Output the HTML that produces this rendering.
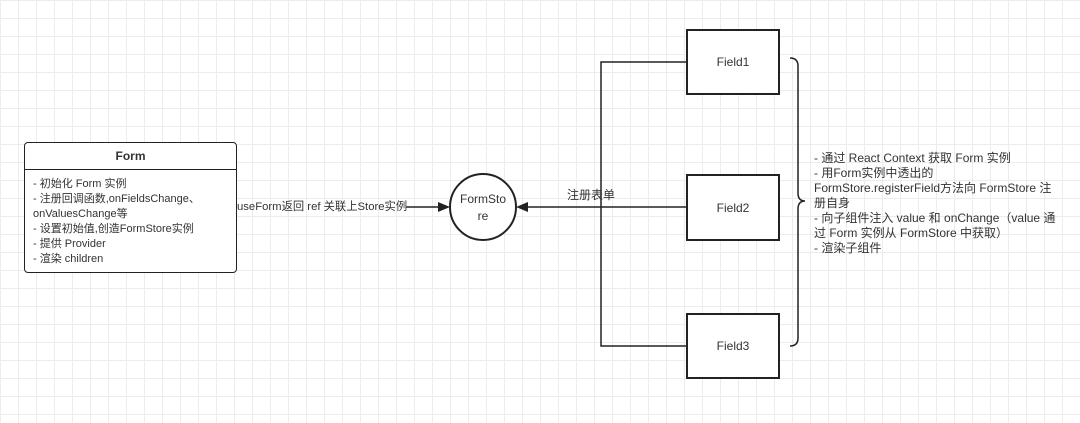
<!DOCTYPE html>
<html><head><meta charset="utf-8"><style>
body{margin:0;width:1080px;height:423px;overflow:hidden;background:#fff;
background-image:linear-gradient(#ececec 1px,transparent 1px),linear-gradient(90deg,#ececec 1px,transparent 1px);background-size:18px 18px;
font-family:"Liberation Sans","Noto Sans CJK SC",sans-serif;color:#333;position:relative}
.a{position:absolute}
.box{position:absolute;border:2px solid #222;background:#fff;display:flex;align-items:center;justify-content:center;font-size:12px;box-sizing:border-box}
.t{position:absolute;font-size:12px;line-height:15px;white-space:nowrap}
</style></head><body>
<div class="a" style="left:24px;top:142px;width:213px;height:131px;border:1.5px solid #222;border-radius:4px;background:#fff;box-sizing:border-box">
<div style="height:26px;border-bottom:1.5px solid #222;text-align:center;font-weight:bold;font-size:12px;line-height:26px">Form</div>
<div style="padding:7px 0 0 8px;font-size:11px;line-height:15px">- 初始化 Form 实例<br>- 注册回调函数,onFieldsChange、<br>onValuesChange等<br>- 设置初始值,创造FormStore实例<br>- 提供 Provider<br>- 渲染 children</div>
</div>
<svg class="a" style="left:0;top:0" width="1080" height="423">
<g stroke="#222" stroke-width="1.5" fill="none">
<line x1="406" y1="207" x2="440" y2="207"/>
<line x1="526" y1="207" x2="686" y2="207"/>
<polyline points="686,62 601,62 601,346 686,346"/>
<circle cx="483" cy="207" r="33" stroke-width="2" fill="#fff"/>
<path d="M790,58 q8,0 8,8 v127 q0,8 7,8 q-7,0 -7,8 v129 q0,8 -8,8"/>
</g>
<polygon points="450,207 438,202 438,212" fill="#222"/>
<polygon points="516,207 528,202 528,212" fill="#222"/>
<text x="483" y="203" font-size="12" text-anchor="middle" fill="#333" font-family="Liberation Sans">FormSto</text>
<text x="483" y="220" font-size="12" text-anchor="middle" fill="#333" font-family="Liberation Sans">re</text>
</svg>
<div class="t" style="left:237px;top:200px;font-size:11.3px">useForm返回 ref 关联上Store实例</div>
<div class="t" style="left:567px;top:188px">注册表单</div>
<div class="box" style="left:686px;top:29px;width:94px;height:66px">Field1</div>
<div class="box" style="left:686px;top:174px;width:94px;height:67px">Field2</div>
<div class="box" style="left:686px;top:313px;width:94px;height:66px">Field3</div>
<div class="t" style="left:814px;top:151px">- 通过 React Context 获取 Form 实例<br>- 用Form实例中透出的<br>FormStore.registerField方法向 FormStore 注<br>册自身<br>- 向子组件注入 value 和 onChange（value 通<br>过 Form 实例从 FormStore 中获取）<br>- 渲染子组件</div>
</body></html>
